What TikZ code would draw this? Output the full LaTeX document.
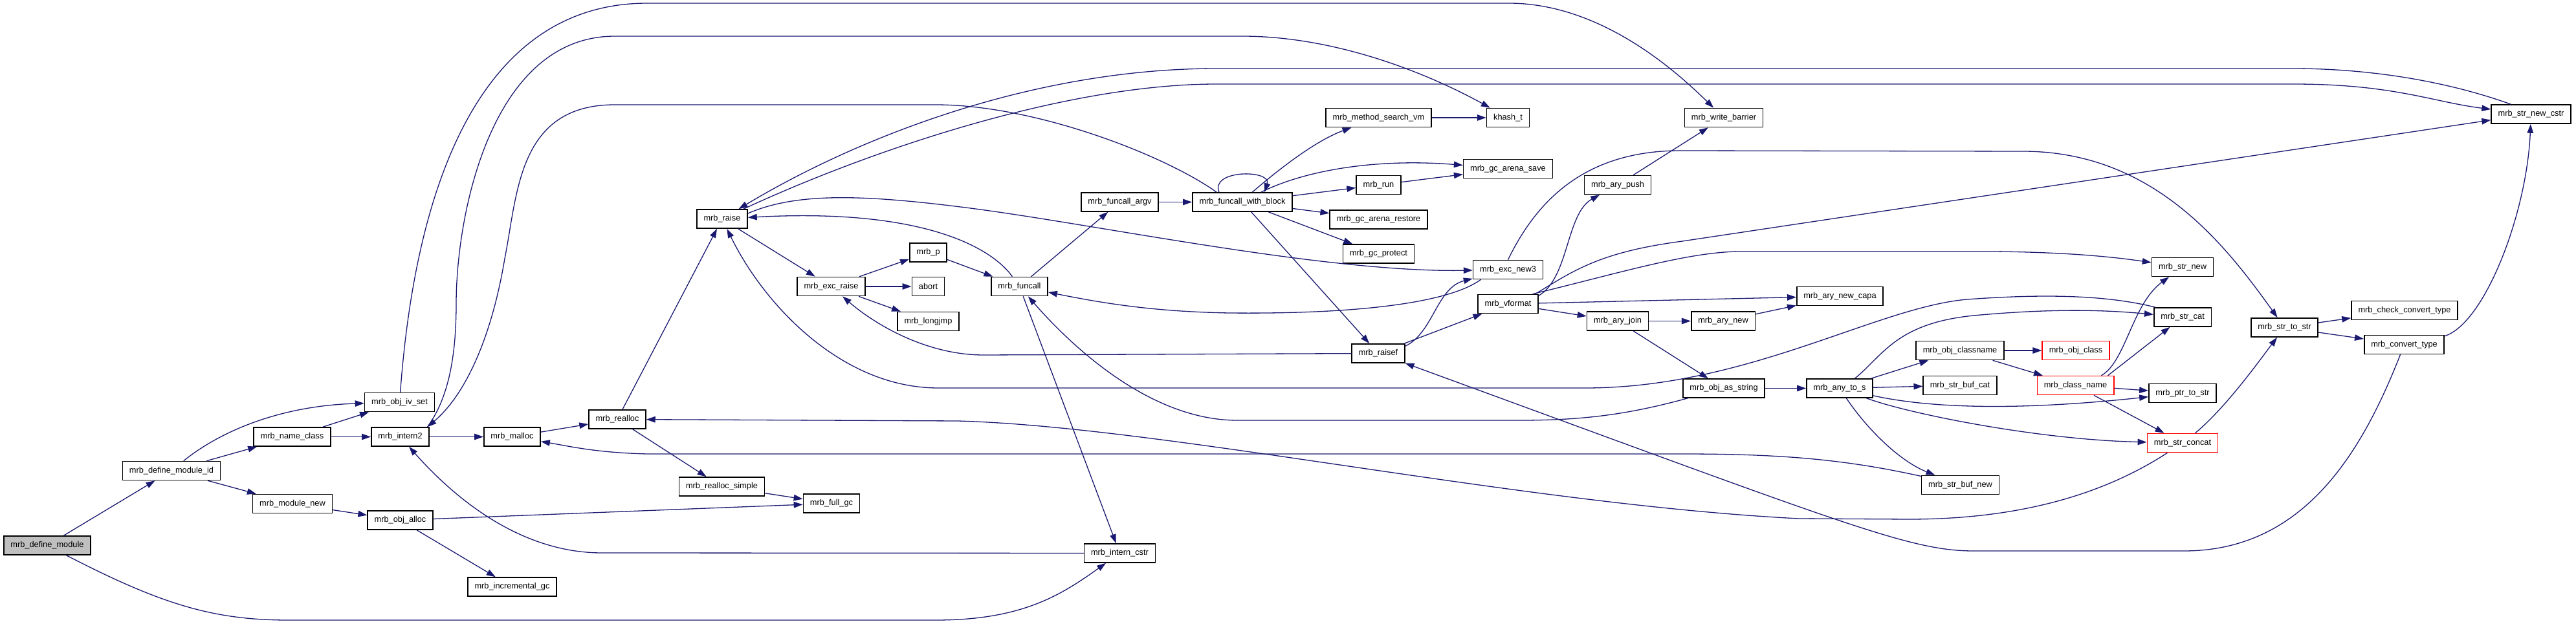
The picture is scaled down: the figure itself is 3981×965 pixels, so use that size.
\documentclass[tikz,border=0pt]{standalone}
\usepackage{fontspec}
\setmainfont{Liberation Sans}
\usetikzlibrary{arrows.meta}
\usepackage{xcolor}
\definecolor{edgeblue}{HTML}{191970}
\definecolor{rootgray}{HTML}{BFBFBF}
\newcommand{\fnfont}{\fontsize{12.8}{15}\selectfont}

\begin{document}
\begin{tikzpicture}[x=1pt,y=-1pt,
  fn/.style={draw=black, line width=1.6pt, fill=white, minimum height=29pt, inner xsep=10.5pt, inner ysep=0pt, font=\fnfont},
  fnred/.style={fn, draw=red},
  call/.style={draw=edgeblue, line width=1.3pt, -{Triangle[length=14pt,width=9.5pt]}}]

\useasboundingbox (0,0) rectangle (3981,965) ;

\node [fn, fill=rootgray] (dm) at (73,843.5) {mrb\_define\_module} ;
\node [fn] (dmid) at (265,728) {mrb\_define\_module\_id} ;
\node [fn] (nc) at (451.5,675.5) {mrb\_name\_class} ;
\node [fn] (mn) at (452,779) {mrb\_module\_new} ;
\node [fn] (ivs) at (617.5,622) {mrb\_obj\_iv\_set} ;
\node [fn] (i2) at (618.5,675.5) {mrb\_intern2} ;
\node [fn] (oa) at (618.5,804.5) {mrb\_obj\_alloc} ;
\node [fn] (igc) at (791.5,907.5) {mrb\_incremental\_gc} ;
\node [fn] (mal) at (791.5,675.5) {mrb\_malloc} ;
\node [fn] (ral) at (954,648.5) {mrb\_realloc} ;
\node [fn] (rai) at (1116,338.5) {mrb\_raise} ;
\node [fn] (er) at (1284.5,443) {mrb\_exc\_raise} ;
\node [fn] (p) at (1434.5,390.5) {mrb\_p} ;
\node [fn] (ab) at (1434.5,443) {abort} ;
\node [fn] (lj) at (1434.5,497) {mrb\_longjmp} ;
\node [fn] (fc) at (1575.5,443) {mrb\_funcall} ;
\node [fn] (fa) at (1730.5,312.5) {mrb\_funcall\_argv} ;
\node [fn] (fwb) at (1920,312.5) {mrb\_funcall\_with\_block} ;
\node [fn] (rs) at (1115.5,752.5) {mrb\_realloc\_simple} ;
\node [fn] (fgc) at (1285,778.5) {mrb\_full\_gc} ;
\node [fn] (ic) at (1730.5,855.5) {mrb\_intern\_cstr} ;
\node [fn] (msv) at (2130.5,182) {mrb\_method\_search\_vm} ;
\node [fn] (kh) at (2330.5,182) {khash\_t} ;
\node [fn] (wb) at (2664,182) {mrb\_write\_barrier} ;
\node [fn] (gas) at (2330.5,261) {mrb\_gc\_arena\_save} ;
\node [fn] (run) at (2130.5,286) {mrb\_run} ;
\node [fn] (gar) at (2130.5,339.5) {mrb\_gc\_arena\_restore} ;
\node [fn] (gp) at (2130.5,392.5) {mrb\_gc\_protect} ;
\node [fn] (en3) at (2330.5,417) {mrb\_exc\_new3} ;
\node [fn] (ap) at (2500,286) {mrb\_ary\_push} ;
\node [fn] (vf) at (2330.5,470) {mrb\_vformat} ;
\node [fn] (anc) at (2843.5,458) {mrb\_ary\_new\_capa} ;
\node [fn] (aj) at (2500,496.5) {mrb\_ary\_join} ;
\node [fn] (an) at (2663,496.5) {mrb\_ary\_new} ;
\node [fn] (rf) at (2130,546.5) {mrb\_raisef} ;
\node [fn] (oas) at (2664,600.5) {mrb\_obj\_as\_string} ;
\node [fn] (ats) at (2843,600.5) {mrb\_any\_to\_s} ;
\node [fn] (snc) at (3911.5,176.5) {mrb\_str\_new\_cstr} ;
\node [fn] (sn) at (3373,413) {mrb\_str\_new} ;
\node [fn] (sc) at (3373,490.5) {mrb\_str\_cat} ;
\node [fn] (ocn) at (3029,542) {mrb\_obj\_classname} ;
\node [fnred] (ocl) at (3208,542) {mrb\_obj\_class} ;
\node [fn] (sbc) at (3029,596) {mrb\_str\_buf\_cat} ;
\node [fnred] (cn) at (3207.5,596) {mrb\_class\_name} ;
\node [fn] (pts) at (3373,608) {mrb\_ptr\_to\_str} ;
\node [fnred] (sct) at (3373,685) {mrb\_str\_concat} ;
\node [fn] (sbn) at (3029.5,750) {mrb\_str\_buf\_new} ;
\node [fn] (sts) at (3530.5,506.5) {mrb\_str\_to\_str} ;
\node [fn] (cct) at (3716,480) {mrb\_check\_convert\_type} ;
\node [fn] (cvt) at (3715.5,533) {mrb\_convert\_type} ;

\draw [call] (dm) -- (dmid) ;
\draw [call] (dm) .. controls (250,935) and (330,959) .. (446,959) -- (1446,959) .. controls (1580,959) and (1640,920) .. (ic) ;
\draw [call] (dmid) .. controls (330,675) and (420,628) .. (ivs) ;
\draw [call] (dmid) -- (nc) ;
\draw [call] (dmid) -- (mn) ;
\draw [call] (nc) -- (ivs) ;
\draw [call] (nc) -- (i2) ;
\draw [call] (mn) -- (oa) ;
\draw [call] (ivs) .. controls (645,250) and (760,5) .. (1000,5) -- (2332,5) .. controls (2480,5) and (2600,120) .. (wb) ;

\draw [call] (i2) -- (mal) ;
\draw [call] (i2.20) .. controls (690,620) and (705,560) .. (705,470) .. controls (705,330) and (760,56) .. (950,56) -- (1920,56) .. controls (2060,56) and (2200,110) .. (kh) ;
\draw [call] (mal) -- (ral) ;
\draw [call] (ral) -- (rai) ;
\draw [call] (ral) -- (rs) ;
\draw [call] (rs) -- (fgc) ;
\draw [call] (oa) -- (fgc) ;
\draw [call] (oa) -- (igc) ;
\draw [call] (ic) -- (930,855) .. controls (820,855) and (720,790) .. (i2) ;

\draw [call] (rai) -- (er) ;
\draw [call] (rai) .. controls (1350,230) and (1650,130) .. (1880,130) -- (3544,130) .. controls (3700,130) and (3760,158) .. (snc) ;
\draw [call] (rai.12) .. controls (1230,298) and (1330,300) .. (1500,322) .. controls (1700,348) and (2050,422) .. (en3) ;
\draw [call] (er) -- (p) ;
\draw [call] (er) -- (ab) ;
\draw [call] (er) -- (lj) ;
\draw [call] (p) -- (fc) ;
\draw [call] (fc) -- (fa) ;
\draw [call] (fc) .. controls (1530,380) and (1420,322) .. (rai) ;
\draw [call] (fc) -- (ic) ;
\draw [call] (fa) -- (fwb) ;

\draw [call] (fwb.157) .. controls (1870,262) and (1965,262) .. (fwb.24) ;
\draw [call] (fwb.159) .. controls (1800,240) and (1600,162) .. (1446,162) -- (950,162) .. controls (800,162) and (800,300) .. (780,400) .. controls (760,520) and (720,610) .. (i2.20) ;
\draw [call] (fwb.45) .. controls (1990,250) and (2040,215) .. (msv) ;
\draw [call] (fwb.28) .. controls (2020,262) and (2130,245) .. (gas) ;
\draw [call] (fwb) -- (run) ;
\draw [call] (fwb) -- (gar) ;
\draw [call] (fwb) -- (gp) ;
\draw [call] (fwb) -- (rf) ;
\draw [call] (msv) -- (kh) ;
\draw [call] (run) -- (gas) ;

\draw [call] (en3.200) .. controls (2240,468) and (2100,486) .. (1900,484) .. controls (1780,482) and (1700,468) .. (fc) ;
\draw [call] (en3.north) .. controls (2375,310) and (2450,232) .. (2600,233) -- (3130,234) .. controls (3330,236) and (3440,380) .. (sts) ;
\draw [call] (rf) -- (vf) ;
\draw [call] (rf.15) .. controls (2215,515) and (2220,445) .. (en3) ;
\draw [call] (rf) -- (1520,549) .. controls (1430,549) and (1350,500) .. (er) ;

\draw [call] (vf.15) .. controls (2425,430) and (2420,330) .. (ap) ;
\draw [call] (vf.20) .. controls (2430,420) and (2470,390) .. (2600,373) -- (snc) ;
\draw [call] (vf.22) .. controls (2500,423) and (2610,389) .. (2690,389) -- (3080,389) .. controls (3200,390) and (3270,398) .. (sn) ;
\draw [call] (vf) -- (anc) ;
\draw [call] (vf) -- (aj) ;
\draw [call] (ap) -- (wb) ;
\draw [call] (aj) -- (an) ;
\draw [call] (an) -- (anc) ;
\draw [call] (aj) -- (oas) ;
\draw [call] (oas) -- (ats) ;
\draw [call] (oas) .. controls (2520,640) and (2450,650) .. (2350,650) -- (1912,650) .. controls (1780,650) and (1660,540) .. (fc) ;

\draw [call] (ats) -- (ocn) ;
\draw [call] (ats) -- (sbc) ;
\draw [call] (ats) .. controls (3000,635) and (3150,632) .. (pts) ;
\draw [call] (ats) .. controls (2950,640) and (3150,680) .. (sct) ;
\draw [call] (ats) .. controls (2890,670) and (2940,715) .. (sbn) ;
\draw [call] (ats.33) .. controls (2910,550) and (2930,500) .. (3050,488) .. controls (3180,476) and (3260,480) .. (sc) ;
\draw [call] (ocn) -- (ocl) ;
\draw [call] (ocn) -- (cn) ;
\draw [call] (cn.21) .. controls (3285,560) and (3295,470) .. (sn) ;
\draw [call] (cn.17) -- (sc) ;
\draw [call] (cn) -- (pts) ;
\draw [call] (cn) -- (sct) ;
\draw [call] (sc.160) .. controls (3250,455) and (3150,455) .. (3040,463) .. controls (2900,475) and (2700,600) .. (2450,600) -- (1450,600) .. controls (1300,600) and (1180,470) .. (rai) ;
\draw [call] (sbn) .. controls (2850,710) and (2750,702) .. (2600,702) -- (1000,702) .. controls (920,700) and (880,690) .. (mal) ;
\draw [call] (sct.38) .. controls (3440,630) and (3490,560) .. (sts) ;
\draw [call] (sct) .. controls (3250,765) and (3120,803) .. (2950,803) -- (2780,802) .. controls (2350,780) and (1800,660) .. (1480,651) -- (ral) ;

\draw [call] (sts) -- (cct) ;
\draw [call] (sts) -- (cvt) ;
\draw [call] (cvt.12) .. controls (3840,500) and (3905,330) .. (snc) ;
\draw [call] (cvt) .. controls (3650,700) and (3560,852) .. (3375,852) -- (3050,852) .. controls (2950,852) and (2850,810) .. (rf) ;
\draw [call] (snc.154) .. controls (3780,125) and (3660,106) .. (3544,106) -- (1880,106) .. controls (1600,106) and (1330,210) .. (rai) ;

\end{tikzpicture}
\end{document}
